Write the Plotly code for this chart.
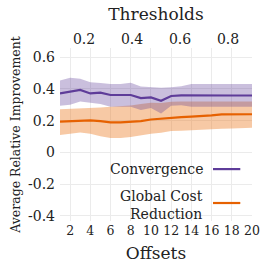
import plotly.graph_objects as go

offsets = list(range(1, 21))
thresholds = [0.1, 0.2, 0.3, 0.4, 0.5, 0.6, 0.7, 0.8, 0.9]

conv_mean = [0.371, 0.384, 0.393, 0.371, 0.376, 0.361, 0.363, 0.361, 0.342, 0.346,
             0.325, 0.355, 0.359, 0.358, 0.358, 0.358, 0.358, 0.358, 0.358, 0.358]
conv_upper = [0.452, 0.469, 0.463, 0.441, 0.437, 0.431, 0.431, 0.439, 0.414, 0.410,
              0.406, 0.410, 0.416, 0.431, 0.431, 0.431, 0.431, 0.431, 0.431, 0.431]
conv_lower = [0.293, 0.299, 0.320, 0.310, 0.304, 0.287, 0.287, 0.287, 0.266, 0.280,
              0.244, 0.293, 0.297, 0.287, 0.287, 0.287, 0.287, 0.287, 0.287, 0.287]

gcr_mean = [0.193, 0.197, 0.197, 0.202, 0.197, 0.189, 0.189, 0.191, 0.197, 0.207,
            0.213, 0.220, 0.222, 0.225, 0.228, 0.233, 0.239, 0.240, 0.240, 0.240]
gcr_upper = [0.272, 0.274, 0.276, 0.278, 0.282, 0.287, 0.291, 0.295, 0.304, 0.312,
             0.310, 0.318, 0.320, 0.320, 0.320, 0.320, 0.320, 0.320, 0.320, 0.320]
gcr_lower = [0.110, 0.117, 0.125, 0.118, 0.102, 0.091, 0.091, 0.096, 0.108, 0.117,
             0.123, 0.134, 0.136, 0.138, 0.141, 0.145, 0.148, 0.151, 0.153, 0.155]

y_ticks = [-0.4, -0.2, 0, 0.2, 0.4, 0.6]
y_ticktext = ["-0.4", "-0.2", "0", "0.2", "0.4", "0.6"]
x_ticks = [2, 4, 6, 8, 10, 12, 14, 16, 18, 20]
t_ticks = [0.2, 0.4, 0.6, 0.8]

PURPLE = "#5e3c99"
ORANGE = "#e66101"
FONT = "DejaVu Serif"

fig = go.Figure()

fig.add_trace(go.Scatter(x=offsets, y=gcr_upper, mode="lines", line=dict(width=0),
                         showlegend=False, hoverinfo="skip"))
fig.add_trace(go.Scatter(x=offsets, y=gcr_lower, mode="lines", line=dict(width=0),
                         fill="tonexty", fillcolor="rgba(235,120,30,0.40)",
                         showlegend=False, hoverinfo="skip"))
fig.add_trace(go.Scatter(x=offsets, y=conv_upper, mode="lines", line=dict(width=0),
                         showlegend=False, hoverinfo="skip"))
fig.add_trace(go.Scatter(x=offsets, y=conv_lower, mode="lines", line=dict(width=0),
                         fill="tonexty", fillcolor="rgba(94,60,153,0.33)",
                         showlegend=False, hoverinfo="skip"))
fig.add_trace(go.Scatter(x=offsets, y=gcr_mean, mode="lines", name="Global Cost Reduction",
                         line=dict(color=ORANGE, width=2.2), showlegend=False))
fig.add_trace(go.Scatter(x=offsets, y=conv_mean, mode="lines", name="Convergence",
                         line=dict(color=PURPLE, width=2.2), showlegend=False))
fig.add_trace(go.Scatter(x=thresholds, y=[0] * len(thresholds), xaxis="x2", mode="lines",
                         line=dict(width=0), opacity=0, showlegend=False, hoverinfo="skip"))

grid = "#ebebeb"
fig.update_layout(
    width=272, height=272,
    margin=dict(l=60, r=15, t=48, b=51),
    paper_bgcolor="white", plot_bgcolor="white",
    font=dict(family=FONT, size=14, color="#222222"),
    xaxis=dict(range=[1, 20], tickvals=x_ticks, showgrid=True, gridcolor=grid,
               gridwidth=1, zeroline=False, showline=False, ticks="", tickangle=0,
               tickfont=dict(size=12.5), ticklabeloverflow="allow",
               title=dict(text="Offsets", standoff=10)),
    xaxis2=dict(range=[0.1, 0.9], overlaying="x", side="top", tickvals=t_ticks,
                showgrid=False, zeroline=False, showline=False, ticks="",
                title=dict(text="Thresholds", standoff=6)),
    yaxis=dict(range=[-0.432, 0.657], tickvals=y_ticks, ticktext=y_ticktext,
               showgrid=True, gridcolor=grid, gridwidth=1, zeroline=False,
               showline=False, ticks="", ticklabelstandoff=4,
               title=dict(text="Average Relative Improvement", standoff=4,
                          font=dict(size=12.5))),
)

fig.add_shape(type="rect", xref="paper", yref="paper", x0=0.228, x1=1.0, y0=0.017, y1=0.37,
              fillcolor="white", line=dict(width=0), layer="between")
fig.add_shape(type="line", xref="paper", yref="paper", x0=0.797, x1=0.939, y0=0.30, y1=0.30,
              line=dict(color=PURPLE, width=2.2))
fig.add_shape(type="line", xref="paper", yref="paper", x0=0.797, x1=0.939, y0=0.104, y1=0.104,
              line=dict(color=ORANGE, width=2.2))
fig.add_annotation(xref="paper", yref="paper", x=0.755, y=0.30, xanchor="right", yanchor="middle",
                   text="Convergence", showarrow=False, align="right")
fig.add_annotation(xref="paper", yref="paper", x=0.755, y=0.092, xanchor="right", yanchor="middle",
                   text="Global Cost<br>Reduction", showarrow=False, align="right")

fig.write_html("out.html", config={"displayModeBar": False},
               post_script="document.body.style.margin='0';")
